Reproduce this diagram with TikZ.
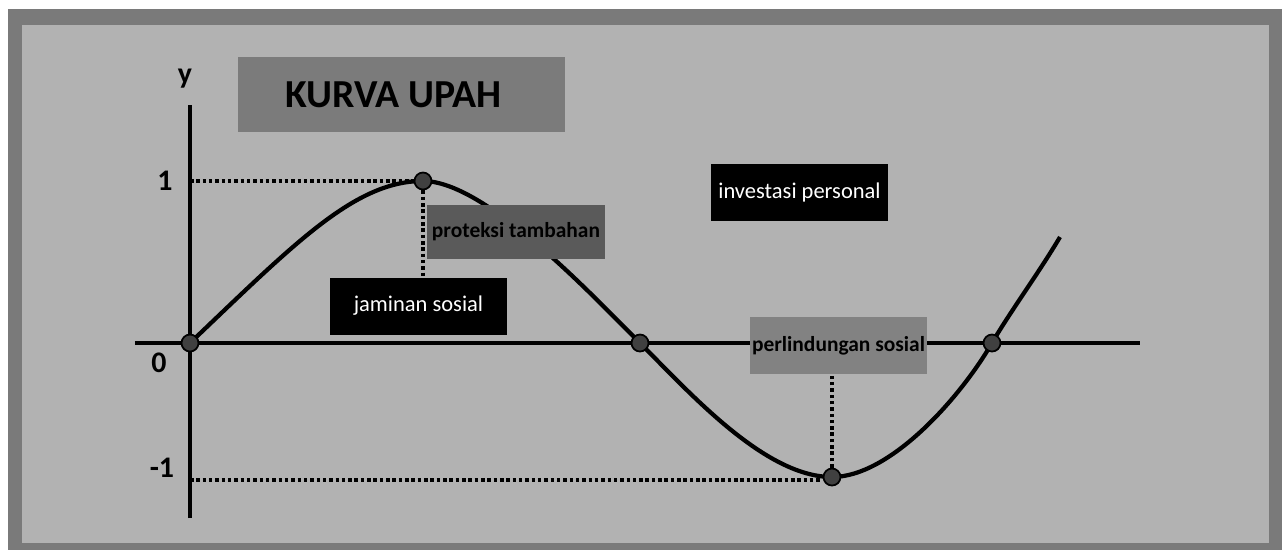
\documentclass[tikz,border=0pt]{standalone}
\usepackage{fontspec}
\setmainfont{Carlito}
\usepackage{tikz}
\usetikzlibrary{calc}

\definecolor{panelgrey}{HTML}{B2B2B2}
\definecolor{framegrey}{HTML}{7A7A7A}
\definecolor{titlegrey}{HTML}{7B7B7B}
\definecolor{darkboxgrey}{HTML}{5A5A5A}
\definecolor{lightboxgrey}{HTML}{828282}
\definecolor{dotgrey}{HTML}{404040}

\begin{document}
\begin{tikzpicture}[
    axisline/.style={line width=1.2pt},
    wage/.style={line width=1.2pt},
    guide/.style={line width=1pt, dash pattern=on 1pt off 0.8pt},
    dot/.style={circle, fill=dotgrey, draw=black, line width=0.5pt, minimum size=0.17cm, inner sep=0pt},
    box/.style={minimum width=1.77cm, minimum height=0.57cm, inner sep=0pt},
    blackbox/.style={box, fill=black, text=white, font=\fontsize{6.4}{7}\selectfont},
    greybox/.style={box, text=black, font=\bfseries\fontsize{6.1}{7}\selectfont},
    ticklabel/.style={font=\bfseries\fontsize{8.5}{9}\selectfont, inner sep=0pt}
]
    % canvas and frame
    \useasboundingbox (-1.90,-2.07) rectangle (10.94,3.43);
    \fill[white] (-1.90,-2.07) rectangle (10.94,3.43);
    \fill[framegrey] (-1.82,-2.07) rectangle (10.92,3.34);
    \fill[panelgrey] (-1.68,-2.00) rectangle (10.79,3.18);

    % axes
    \coordinate (o) at (0,0);
    \coordinate (xleft) at (-0.55,0);
    \coordinate (xright) at (9.50,0);
    \coordinate (ybottom) at (0,-1.75);
    \coordinate (ytop) at (0,2.38);
    \draw[axisline] (xleft) -- (xright);
    \draw[axisline] (ybottom) -- (ytop);

    % the wage curve
    \coordinate (peak) at (2.33,1.62);
    \coordinate (cross) at (4.50,0);
    \coordinate (trough) at (6.42,-1.34);
    \coordinate (return) at (8.02,0);
    \coordinate (tail) at (8.70,1.06);
    \draw[wage] (o) .. controls (1.05,1.00) and (1.65,1.62) .. (peak)
        .. controls (2.95,1.62) and (4.00,0.50) .. (cross)
        .. controls (5.00,-0.50) and (5.75,-1.34) .. (trough)
        .. controls (7.00,-1.34) and (7.70,-0.55) .. (return)
        .. controls (8.18,0.28) and (8.50,0.72) .. (tail);

    \node[dot] (origindot) at (o) {};
    \node[dot] (peakdot) at (peak) {};
    \node[dot] (crossdot) at (cross) {};
    \node[dot] (troughdot) at (trough) {};
    \node[dot] (returndot) at (return) {};

    % boxes
    \node[box, minimum width=3.27cm, minimum height=0.75cm, fill=titlegrey, font=\bfseries\fontsize{11.3}{13}\selectfont] (title) at (2.115,2.485) {\hspace*{-0.16cm}KURVA UPAH};
    \node[greybox, fill=darkboxgrey, minimum height=0.54cm] (proteksi) at (3.26,1.11) {proteksi tambahan};
    \node[blackbox] (jaminan) at (2.285,0.37) {jaminan sosial};
    \node[blackbox] (investasi) at (6.095,1.51) {investasi personal};
    \node[greybox, fill=lightboxgrey] (perlindungan) at (6.485,-0.025) {perlindungan sosial};

    % dotted guides
    \draw[guide] (o |- peakdot) -- (peakdot.west);
    \draw[guide] (peakdot.south) -- (peakdot.south |- jaminan.north);
    \draw[guide] ([yshift=-0.03cm]o |- troughdot) -- ([yshift=-0.03cm]troughdot.west);
    \draw[guide] (troughdot.north) -- (troughdot.north |- perlindungan.south);

    % axis labels
    \node[ticklabel] (ylabel) at (-0.05,2.64) {y};
    \node[ticklabel] (onelabel) at (-0.25,1.62) {1};
    \node[ticklabel] (zerolabel) at (-0.31,-0.20) {0};
    \node[ticklabel] (minuslabel) at (-0.28,-1.25) {-1};
\end{tikzpicture}
\end{document}
